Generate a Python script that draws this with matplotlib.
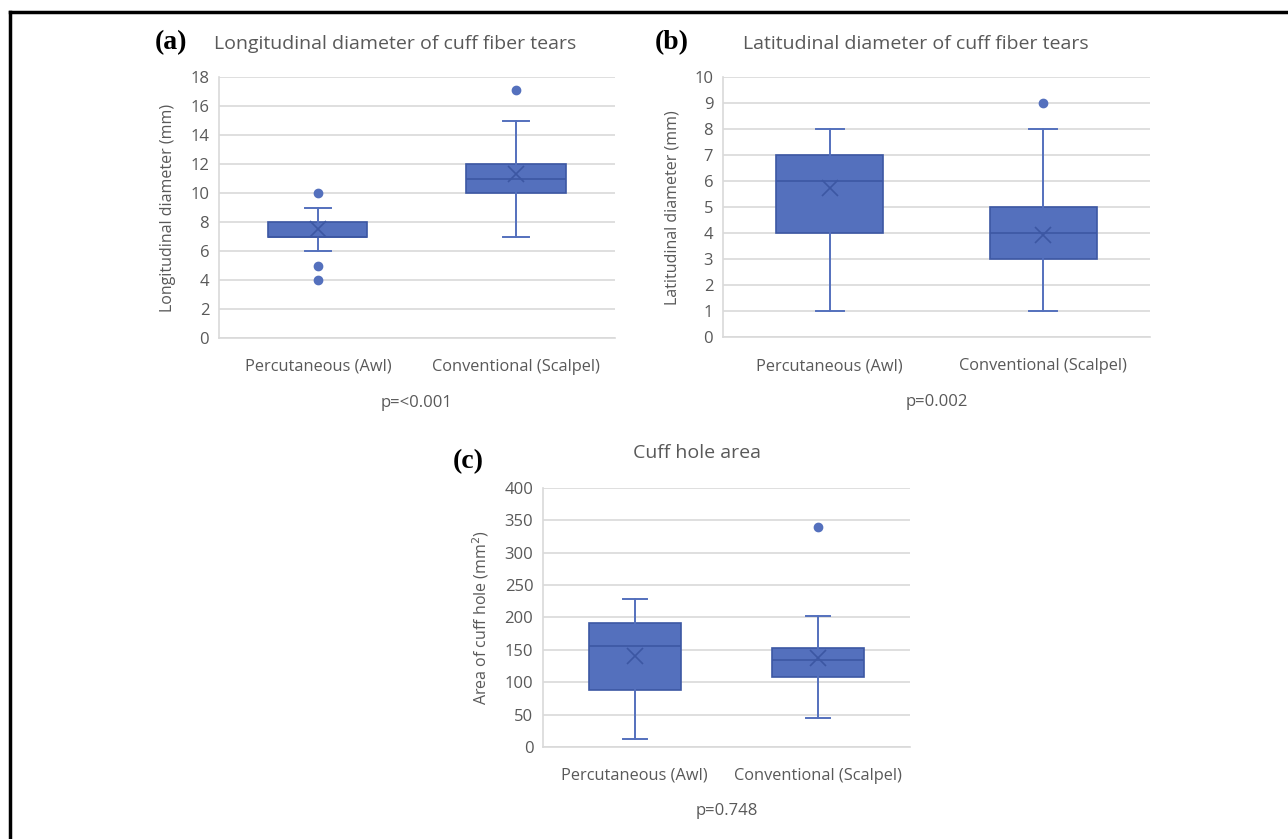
import matplotlib
matplotlib.use('Agg')
import matplotlib.pyplot as plt
from matplotlib.lines import Line2D

plt.rcParams['font.family'] = ['Open Sans', 'DejaVu Sans']

groups = ['Percutaneous (Awl)', 'Conventional (Scalpel)']

# (a) longitudinal diameter (mm)
a_whislo = [6, 7]
a_q1 = [7, 10]
a_med = [7, 11]
a_q3 = [8, 12]
a_whishi = [9, 15]
a_mean = [7.5, 11.3]
a_fliers = [[10, 5, 4], [17.1]]

# (b) latitudinal diameter (mm)
b_whislo = [1, 1]
b_q1 = [4, 3]
b_med = [6, 4]
b_q3 = [7, 5]
b_whishi = [8, 8]
b_mean = [5.75, 3.95]
b_fliers = [[], [9]]

# (c) cuff hole area (mm2)
c_whislo = [13, 44]
c_q1 = [88, 108]
c_med = [156, 134]
c_q3 = [191, 153]
c_whishi = [228, 203]
c_mean = [140, 137]
c_fliers = [[], [340]]

blue = '#5470bd'
dark = '#3c57a3'
grid = '#d9d9d9'
txt = '#595959'
W, H = 1288, 839


def stats(wl, q1, med, q3, wh, mean, fl):
    out = []
    for i in range(len(groups)):
        out.append(dict(whislo=wl[i], q1=q1[i], med=med[i], q3=q3[i], whishi=wh[i],
                        mean=mean[i], fliers=fl[i], label=groups[i]))
    return out


def panel(pos, st, ymax, ystep, ylabel, title, titlexy, tag, tagxy, pval, py):
    sub = fig.add_axes(pos)
    sub.bxp(st, positions=[1, 2], widths=0.5, capwidths=0.13, patch_artist=True,
            showmeans=True, showfliers=True,
            boxprops=dict(facecolor=blue, edgecolor=dark, linewidth=1.2),
            medianprops=dict(color=dark, linewidth=1.2),
            whiskerprops=dict(color=blue, linewidth=1.4),
            capprops=dict(color=blue, linewidth=1.4),
            meanprops=dict(marker='x', markeredgecolor=dark, markersize=11, markeredgewidth=1.2),
            flierprops=dict(marker='o', markerfacecolor=blue, markeredgecolor=blue, markersize=6))
    sub.set_xlim(0.5, 2.5)
    sub.set_ylim(0, ymax)
    sub.set_yticks(range(0, ymax + 1, ystep))
    sub.yaxis.grid(True, color=grid, linewidth=1.2)
    sub.set_axisbelow(True)
    for s in ['top', 'right']:
        sub.spines[s].set_visible(False)
    sub.spines['left'].set_color(grid)
    sub.spines['bottom'].set_color(grid)
    sub.spines['left'].set_linewidth(1.2)
    sub.spines['bottom'].set_linewidth(1.2)
    sub.tick_params(length=0, labelsize=12, labelcolor=txt, pad=7)
    sub.tick_params(axis='x', labelsize=11.8, pad=15)
    sub.set_ylabel(ylabel, fontsize=11.5, color=txt, labelpad=10)
    fig.text(titlexy[0] / W, 1 - titlexy[1] / H, title, fontsize=14, color=txt,
             ha='center', va='center')
    fig.text(pos[0] + pos[2] / 2, 1 - py / H, pval, ha='center', va='center',
             fontsize=12, color=txt)
    fig.text(tagxy[0] / W, 1 - tagxy[1] / H, tag, fontsize=20, fontweight='bold',
             family='Liberation Serif', ha='left', va='center', color='black')
    return sub


fig = plt.figure(figsize=(12.88, 8.39), dpi=100)

panel([0.170, 0.597, 0.3075, 0.311], stats(a_whislo, a_q1, a_med, a_q3, a_whishi, a_mean, a_fliers),
      18, 2, 'Longitudinal diameter (mm)', 'Longitudinal diameter of cuff fiber tears', (395, 44),
      '(a)', (155, 43), 'p=<0.001', 403)
panel([0.5613, 0.598, 0.3315, 0.310], stats(b_whislo, b_q1, b_med, b_q3, b_whishi, b_mean, b_fliers),
      10, 1, 'Latitudinal diameter (mm)', 'Latitudinal diameter of cuff fiber tears', (916, 44),
      '(b)', (655, 43), 'p=0.002', 402)
panel([0.4216, 0.1097, 0.2849, 0.3087], stats(c_whislo, c_q1, c_med, c_q3, c_whishi, c_mean, c_fliers),
      400, 50, 'Area of cuff hole (mm$^2$)', 'Cuff hole area', (697, 453),
      '(c)', (453, 462), 'p=0.748', 811)

# frame on top and left like the reference crop
fig.add_artist(Line2D([10 / W, 1.0], [1 - 12 / H, 1 - 12 / H], color='black', linewidth=2.5))
fig.add_artist(Line2D([10 / W, 10 / W], [0.0, 1 - 12 / H], color='black', linewidth=2.5))

fig.savefig('out.png', dpi=100)
